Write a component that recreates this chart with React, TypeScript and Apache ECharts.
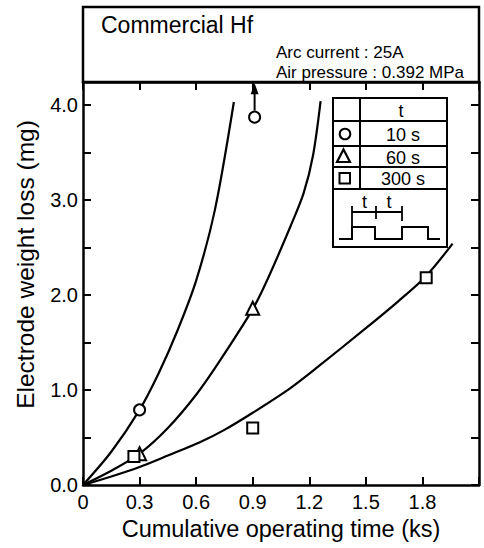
import React, { useEffect, useRef } from "react";
import * as echarts from "echarts";

const FONT = "'Liberation Sans', Arial, Helvetica, sans-serif";

// Axis ranges / ticks
const xMin = 0;
const xMax = 2.1;
const xInterval = 0.3;
const yMin = 0;
const yMax = 4.24;
const yInterval = 0.5;

// Fitted curves
const curve10s = [
  [0, 0], [0.15, 0.35], [0.3, 0.79], [0.4, 1.17], [0.5, 1.62],
  [0.6, 2.15], [0.7, 2.9], [0.8, 4.03],
];
const curve60s = [
  [0, 0], [0.15, 0.15], [0.3, 0.33], [0.45, 0.6], [0.6, 0.95],
  [0.72, 1.29], [0.9, 1.85], [0.98, 2.17], [1.1, 2.72], [1.17, 3.07],
  [1.22, 3.47], [1.26, 4.04],
];
const curve300s = [
  [0, 0], [0.15, 0.09], [0.3, 0.19], [0.45, 0.31], [0.62, 0.45],
  [0.75, 0.58], [0.9, 0.76], [1.1, 1.02], [1.25, 1.25], [1.5, 1.65],
  [1.67, 1.93], [1.82, 2.2], [1.96, 2.54],
];

// Measured points
const pts10s = [[0.3, 0.79], [0.91, 3.87]];
const pts60s = [[0.3, 0.33], [0.9, 1.86]];
const pts300s = [[0.27, 0.3], [0.9, 0.6], [1.82, 2.18]];

// Off-scale arrow above the 10 s point at 0.91 ks
const arrowShaft = [[0.91, 3.94], [0.91, 4.14]];
const arrowHead = [[0.91, 4.17]];

// Texts
const titleText = "Commercial Hf";
const conditions = ["Arc current : 25A", "Air pressure : 0.392 MPa"];
const xName = "Cumulative operating time (ks)";
const yName = "Electrode weight loss (mg)";
const legendHeader = "t";
const legendLabels = ["10 s", "60 s", "300 s"];

const BLACK = "#000";

function buildOption() {
  const lineSeries = (name: string, data: number[][]) => ({
    name,
    type: "line",
    data,
    smooth: 0.3,
    showSymbol: false,
    symbol: "none",
    lineStyle: { color: BLACK, width: 2.2 },
    silent: true,
    z: 2,
  });
  const scatterSeries = (name: string, data: number[][], symbol: string, size: number) => ({
    name,
    type: "scatter",
    data,
    symbol,
    symbolSize: size,
    itemStyle: { color: "#fff", borderColor: BLACK, borderWidth: 2, opacity: 1 },
    z: 5,
    silent: true,
  });

  const axisCommon = {
    type: "value",
    axisLine: { show: true, onZero: false, lineStyle: { color: BLACK, width: 2.5 } },
    axisTick: { show: true, inside: true, length: 8, lineStyle: { color: BLACK, width: 2 } },
    splitLine: { show: false },
  };

  const lt = 2; // legend line width
  const legendLines: any[] = [
    { type: "rect", shape: { x: 333, y: 98, width: 114, height: 149 }, style: { fill: "#fff", stroke: BLACK, lineWidth: lt } },
    ...[121, 146, 167, 189].map((y) => ({
      type: "line", shape: { x1: 333, y1: y, x2: 447, y2: y }, style: { stroke: BLACK, lineWidth: lt },
    })),
    { type: "line", shape: { x1: 360, y1: 98, x2: 360, y2: 189 }, style: { stroke: BLACK, lineWidth: lt } },
    {
      type: "text", x: 401, y: 111,
      style: { text: legendHeader, font: `18px ${FONT}`, fill: BLACK, align: "center", verticalAlign: "middle" },
    },
    ...legendLabels.map((t, i) => ({
      type: "text", x: 403, y: [135, 157.5, 178.5][i],
      style: { text: t, font: `18px ${FONT}`, fill: BLACK, align: "center", verticalAlign: "middle" },
    })),
    { type: "circle", shape: { cx: 345, cy: 134, r: 5.3 }, style: { fill: "#fff", stroke: BLACK, lineWidth: 2 } },
    { type: "polygon", shape: { points: [[343.5, 149.5], [350, 162], [337, 162]] }, style: { fill: "#fff", stroke: BLACK, lineWidth: 2.2 } },
    { type: "rect", shape: { x: 339.5, y: 173, width: 10.5, height: 10.5 }, style: { fill: "#fff", stroke: BLACK, lineWidth: 2 } },
    // waveform
    {
      type: "polyline",
      shape: { points: [[339, 239], [352, 239], [352, 227], [375, 227], [375, 239], [402, 239], [402, 227], [428, 227], [428, 239], [440, 239]] },
      style: { stroke: BLACK, lineWidth: 2, fill: null },
    },
    { type: "line", shape: { x1: 352, y1: 212, x2: 402, y2: 212 }, style: { stroke: BLACK, lineWidth: 1.8 } },
    { type: "line", shape: { x1: 352, y1: 206, x2: 352, y2: 227 }, style: { stroke: BLACK, lineWidth: 1.8 } },
    { type: "line", shape: { x1: 376, y1: 206, x2: 376, y2: 219 }, style: { stroke: BLACK, lineWidth: 1.8 } },
    { type: "line", shape: { x1: 402, y1: 206, x2: 402, y2: 221 }, style: { stroke: BLACK, lineWidth: 1.8 } },
    {
      type: "text", x: 364.5, y: 202,
      style: { text: "t", font: `18px ${FONT}`, fill: BLACK, align: "center", verticalAlign: "middle" },
    },
    {
      type: "text", x: 389, y: 202,
      style: { text: "t", font: `18px ${FONT}`, fill: BLACK, align: "center", verticalAlign: "middle" },
    },
  ];

  return {
    animation: false,
    backgroundColor: "#fff",
    textStyle: { fontFamily: FONT, color: BLACK },
    title: {
      text: titleText,
      left: 101,
      top: 13.5,
      padding: 0,
      textStyle: { fontFamily: FONT, fontSize: 23, fontWeight: "normal", color: BLACK },
    },
    grid: { left: 83, top: 82, width: 396, height: 403, containLabel: false },
    xAxis: [
      {
        ...axisCommon,
        position: "bottom",
        min: xMin,
        max: xMax,
        interval: xInterval,
        name: xName,
        nameLocation: "middle",
        nameGap: 30,
        nameTextStyle: { fontFamily: FONT, fontSize: 23.5, color: BLACK },
        axisLabel: {
          show: true,
          margin: 7,
          fontFamily: FONT,
          fontSize: 20,
          color: BLACK,
          formatter: (v: number) => (v === 0 ? "0" : v > 2 ? "" : v.toFixed(1)),
        },
      },
      {
        ...axisCommon,
        position: "top",
        min: xMin,
        max: xMax,
        interval: xInterval,
        axisLabel: { show: false },
      },
    ],
    yAxis: [
      {
        ...axisCommon,
        position: "left",
        min: yMin,
        max: yMax,
        interval: yInterval,
        name: yName,
        nameLocation: "middle",
        nameGap: 45,
        nameTextStyle: { fontFamily: FONT, fontSize: 24.5, color: BLACK, padding: [0, 0, 0, 38] },
        axisLabel: {
          show: true,
          margin: 5,
          fontFamily: FONT,
          fontSize: 20,
          color: BLACK,
          showMaxLabel: false,
          formatter: (v: number) => (Math.abs(v - Math.round(v)) < 1e-9 ? v.toFixed(1) : ""),
        },
      },
      {
        ...axisCommon,
        position: "right",
        min: yMin,
        max: yMax,
        interval: yInterval,
        axisLabel: { show: false },
      },
    ],
    graphic: [
      {
        type: "rect",
        shape: { x: 83, y: 7, width: 396, height: 75 },
        style: { fill: "none", stroke: BLACK, lineWidth: 2.5 },
        silent: true,
      },
      {
        type: "text", x: 276, y: 52.5,
        style: { text: conditions[0], font: `17px ${FONT}`, fill: BLACK, align: "left", verticalAlign: "middle" },
        silent: true,
      },
      {
        type: "text", x: 276, y: 72,
        style: { text: conditions[1], font: `17px ${FONT}`, fill: BLACK, align: "left", verticalAlign: "middle" },
        silent: true,
      },
      ...legendLines.map((e) => ({ ...e, silent: true, z: 100 })),
    ],
    series: [
      lineSeries("10 s curve", curve10s),
      lineSeries("60 s curve", curve60s),
      lineSeries("300 s curve", curve300s),
      {
        name: "arrow shaft",
        type: "line",
        data: arrowShaft,
        showSymbol: false,
        symbol: "none",
        lineStyle: { color: BLACK, width: 2 },
        silent: true,
        z: 3,
      },
      {
        name: "arrow head",
        type: "scatter",
        data: arrowHead,
        symbol: "triangle",
        symbolSize: [8, 11],
        itemStyle: { color: BLACK, opacity: 1 },
        silent: true,
        z: 4,
      },
      scatterSeries("10 s", pts10s, "circle", 11),
      scatterSeries("60 s", pts60s, "triangle", 13),
      scatterSeries("300 s", pts300s, "rect", 11),
    ],
  };
}

export default function App() {
  const ref = useRef<HTMLDivElement>(null);
  useEffect(() => {
    if (!ref.current) return;
    const chart = echarts.init(ref.current, null, { renderer: "svg" });
    chart.setOption(buildOption() as any);
    return () => {
      chart.dispose();
    };
  }, []);
  return (
    <div
      ref={ref}
      style={{ position: "absolute", left: 0, top: 0, width: 484, height: 548, background: "#fff" }}
    />
  );
}
